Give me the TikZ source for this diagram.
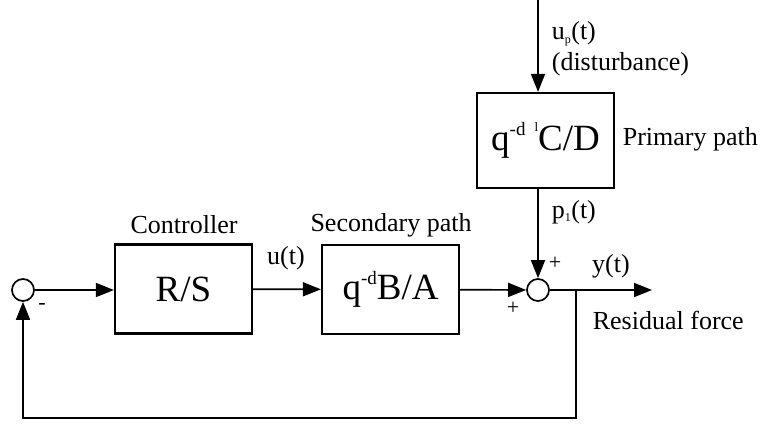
\documentclass[tikz,border=0pt]{standalone}
\usepackage{fontspec}
\setmainfont{Liberation Serif}
\usetikzlibrary{arrows.meta}
\newcommand{\tinysub}[1]{\textsubscript{\fontsize{12}{12}\selectfont #1}}
\newcommand{\highsup}[1]{\raisebox{15pt}{\fontsize{19}{19}\selectfont #1}}
\begin{document}
\begin{tikzpicture}[x=1pt, y=-1pt, line width=1.7pt,
  >={Triangle[length=18pt,width=14pt]},
  block/.style={draw, line width=2.2pt, minimum width=137pt, minimum height=89pt, inner sep=0pt, font=\fontsize{37}{40}\selectfont},
  junction/.style={draw, circle, line width=1.7pt, minimum size=22pt, inner sep=0pt},
  lbl/.style={font=\fontsize{26}{30}\selectfont, inner sep=0pt},
  sgn/.style={font=\fontsize{22}{24}\selectfont, inner sep=0pt}]
\useasboundingbox (0,0) rectangle (770,423);
% blocks and junctions
\node[junction] (sumL) at (23,290) {};
\node[block] (ctrl) at (183.5,289) {R/S};
\node[block] (sec) at (390.5,289.5) {q\highsup{-d}B/A};
\node[junction] (sumR) at (538,290) {};
\node[block, minimum height=95pt] (prim) at (545.5,140.5) {q\highsup{-d}\kern9pt\raisebox{19pt}{\fontsize{13}{13}\selectfont l}\kern0pt C/D};
\coordinate (dist) at (538,0);
\coordinate (out) at (652,290);
\coordinate (branch) at (576,290);
\coordinate (fb) at (576,418);
% labels
\node[lbl] (ctrllbl) at (184,225) {Controller};
\node[lbl] (seclbl) at (391,225) {Secondary path};
\node[lbl, anchor=west] (primlbl) at (622,139) {Primary path};
\node[lbl] (ulbl) at (286,258) {u(t)};
\node[lbl, anchor=west] (uplbl) at (551,34) {u\tinysub{p}(t)};
\node[lbl, anchor=west] (distlbl) at (551,64) {(disturbance)};
\node[lbl, anchor=west] (plbl) at (551,212) {p\tinysub{1}(t)};
\node[lbl] (ylbl) at (611,266) {y(t)};
\node[lbl, anchor=west] (reslbl) at (592,320) {Residual force};
\node[sgn] (plusA) at (555,263) {+};
\node[sgn] (plusB) at (513,308) {+};
\node[sgn] (minus) at (42,306) {-};
% connectors
\draw[->] (dist) -- (dist |- prim.north);
\draw[->] (prim.south -| sumR) -- (sumR);
\draw[->] (sumL) -- (sumL -| ctrl.west);
\draw[->] (ctrl) -- (sec);
\draw[->] (sec) -- (sumR);
\draw[->] (sumR) -- (out);
\draw[->] (branch) -- (fb) -| (sumL);
\end{tikzpicture}
\end{document}
